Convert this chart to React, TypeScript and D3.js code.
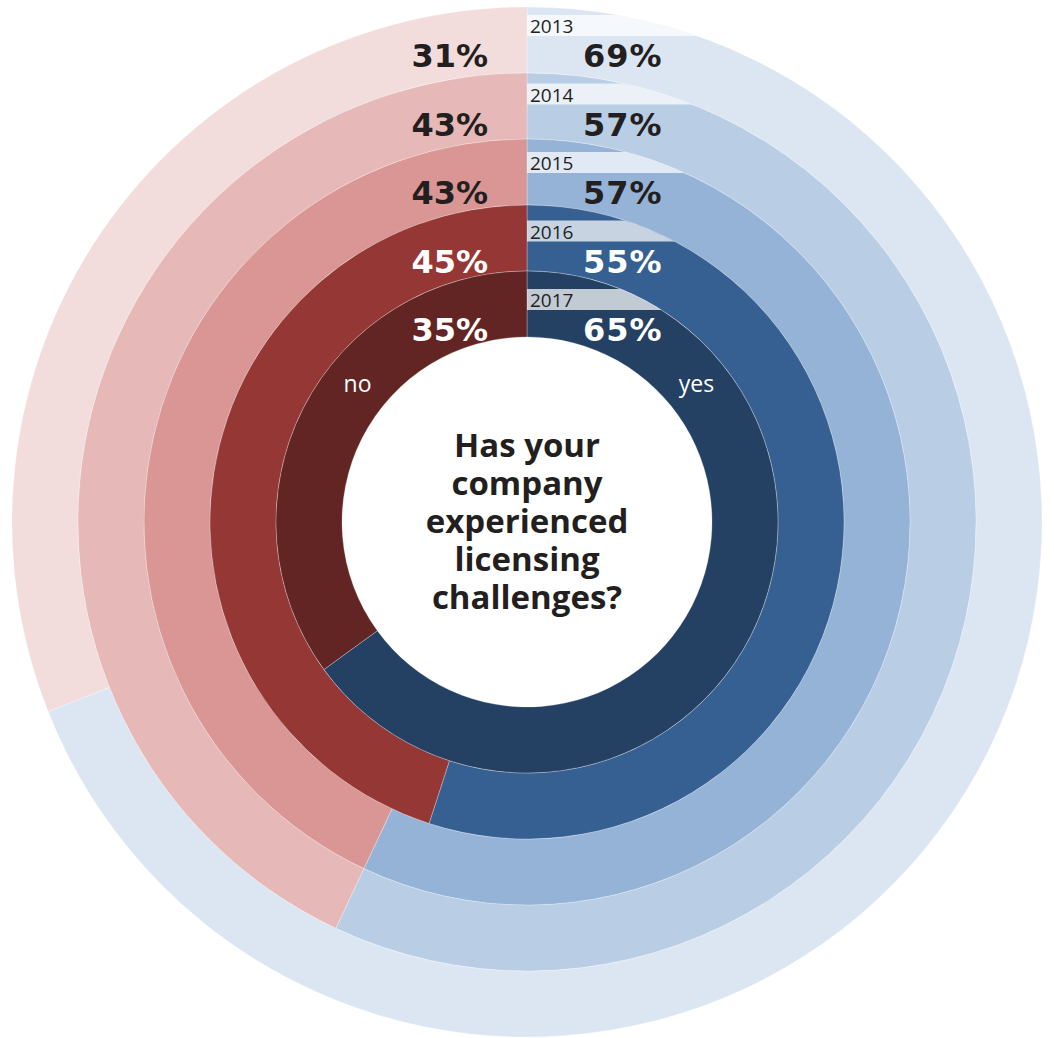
import React from "react";
import * as d3 from "d3";

const years = ["2013", "2014", "2015", "2016", "2017"];
const yesValues = [69, 57, 57, 55, 65];
const noValues = [31, 43, 43, 45, 35];
const yesColors = ["#dce6f2", "#b9cde5", "#95b3d7", "#366092", "#244062"];
const noColors = ["#f2dcdc", "#e6b8b7", "#d99694", "#953735", "#632523"];
const labelColors = ["#231f20", "#231f20", "#231f20", "#ffffff", "#ffffff"];
const questionLines = ["Has your", "company", "experienced", "licensing", "challenges?"];
const categoryLabels = ["yes", "no"];

const W = 1054;
const H = 1038;
const cx = 527;
const cy = 522;
const innerR = 185;
const ringW = 66;

export default function App() {
  // ring index: 0 = outermost (2013), 4 = innermost (2017)
  const rScale = d3
    .scaleLinear()
    .domain([years.length, 0])
    .range([innerR, innerR + ringW * years.length]);
  const angle = d3.scaleLinear().domain([0, 100]).range([0, 2 * Math.PI]);
  const arc = d3.arc<any>();

  const rings = years.map((y, i) => {
    const r0 = rScale(i + 1);
    const r1 = rScale(i);
    const total = yesValues[i] + noValues[i];
    const yesEnd = angle((yesValues[i] / total) * 100);
    const yesPath = arc({ innerRadius: r0, outerRadius: r1, startAngle: 0, endAngle: yesEnd }) as string;
    const noPath = arc({ innerRadius: r0, outerRadius: r1, startAngle: yesEnd, endAngle: 2 * Math.PI }) as string;
    const bannerBottom = cy - r1 + 29 + 2.5 * i;
    return { y, i, r0, r1, yesPath, noPath, bannerBottom };
  });

  const innermost = rings[rings.length - 1];
  const midR = (innermost.r0 + innermost.r1) / 2;
  const catAngle = (51 * Math.PI) / 180;

  return (
    <svg
      width={W}
      height={H}
      style={{ position: "absolute", left: 0, top: 0, background: "#ffffff" }}
    >
      <defs>
        {rings.map((d) => (
          <clipPath id={`clip-${d.y}`} key={d.y}>
            <circle cx={cx} cy={cy} r={d.r1} />
          </clipPath>
        ))}
      </defs>
      <g transform={`translate(${cx},${cy})`}>
        {rings.map((d) => (
          <g key={d.y}>
            <path d={d.yesPath} fill={yesColors[d.i]} stroke="#ffffff" strokeOpacity={0.45} strokeWidth={0.6} />
            <path d={d.noPath} fill={noColors[d.i]} stroke="#ffffff" strokeOpacity={0.45} strokeWidth={0.6} />
          </g>
        ))}
      </g>
      {rings.map((d) => (
        <g key={`b-${d.y}`}>
          <rect
            x={cx}
            y={d.bannerBottom - 21}
            width={220}
            height={21}
            fill="#ffffff"
            fillOpacity={0.72}
            clipPath={`url(#clip-${d.y})`}
          />
          <text
            x={cx + 3}
            y={d.bannerBottom - 3}
            fontFamily="'Open Sans', sans-serif"
            fontSize={19}
            fill="#231f20"
          >
            {d.y}
          </text>
          <text
            x={cx - 39}
            y={d.bannerBottom + 31}
            textAnchor="end"
            fontFamily="'DejaVu Sans', sans-serif"
            fontWeight={700}
            fontSize={32}
            fill={labelColors[d.i]}
          >
            {`${noValues[d.i]}%`}
          </text>
          <text
            x={cx + 56}
            y={d.bannerBottom + 31}
            textAnchor="start"
            fontFamily="'DejaVu Sans', sans-serif"
            fontWeight={700}
            fontSize={32}
            letterSpacing={1}
            fill={labelColors[d.i]}
          >
            {`${yesValues[d.i]}%`}
          </text>
        </g>
      ))}
      <text
        x={cx + midR * Math.sin(catAngle)}
        y={cy - midR * Math.cos(catAngle) + 7}
        textAnchor="middle"
        fontFamily="'Open Sans', sans-serif"
        fontSize={23}
        fill="#ffffff"
      >
        {categoryLabels[0]}
      </text>
      <text
        x={cx - midR * Math.sin(catAngle)}
        y={cy - midR * Math.cos(catAngle) + 7}
        textAnchor="middle"
        fontFamily="'Open Sans', sans-serif"
        fontSize={23}
        fill="#ffffff"
      >
        {categoryLabels[1]}
      </text>
      <text
        textAnchor="middle"
        fontFamily="'Open Sans', sans-serif"
        fontWeight={700}
        fontSize={33}
        fill="#231f20"
      >
        {questionLines.map((l, k) => (
          <tspan key={k} x={cx} y={457 + 38 * k}>
            {l}
          </tspan>
        ))}
      </text>
    </svg>
  );
}
